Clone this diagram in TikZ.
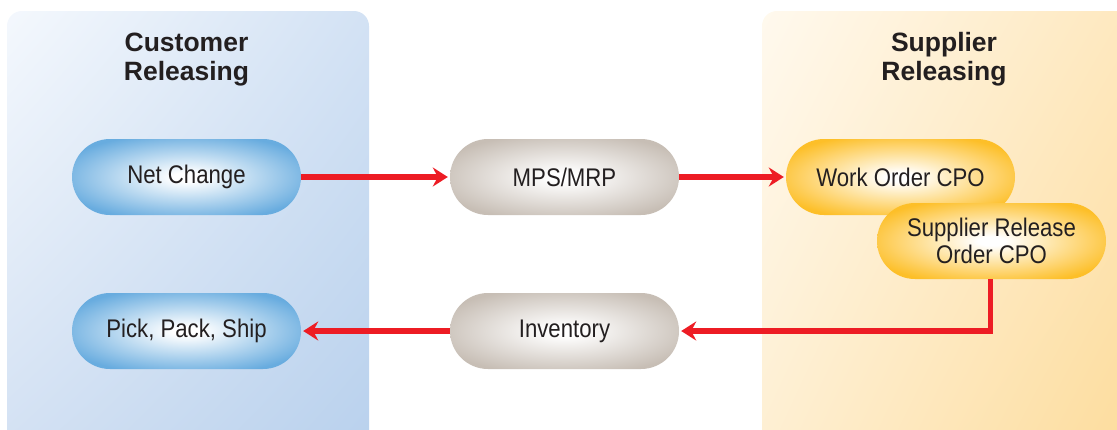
\documentclass[tikz,border=0pt]{standalone}
\usepackage{fontspec}
\setmainfont{Liberation Sans}
\newfontfamily\condfont[FakeStretch=0.87]{Liberation Sans}
\usetikzlibrary{arrows.meta,shapes.misc,shadings}
\definecolor{nodeblue}{HTML}{68ACDF}
\definecolor{nodegray}{HTML}{C7BEB5}
\definecolor{nodegold}{HTML}{FDBF28}
\definecolor{arrowred}{HTML}{ED1C24}
\definecolor{txt}{HTML}{231F20}
\definecolor{bUL}{HTML}{F4F8FD}
\definecolor{bUR}{HTML}{D3E2F4}
\definecolor{bLL}{HTML}{D3E1F3}
\definecolor{bLR}{HTML}{B9D1ED}
\definecolor{yUL}{HTML}{FFF9EE}
\definecolor{yUR}{HTML}{FEE8BE}
\definecolor{yLL}{HTML}{FEEFD2}
\definecolor{yLR}{HTML}{FDDC9C}
\pgfdeclareradialshading{blueglow}{\pgfpointorigin}{color(0bp)=(white); color(3bp)=(white); color(29bp)=(nodeblue); color(50bp)=(nodeblue)}
\pgfdeclareradialshading{grayglow}{\pgfpointorigin}{color(0bp)=(white); color(3bp)=(white); color(29bp)=(nodegray); color(50bp)=(nodegray)}
\pgfdeclareradialshading{goldglow}{\pgfpointorigin}{color(0bp)=(white); color(3bp)=(white); color(29bp)=(nodegold); color(50bp)=(nodegold)}
\tikzset{
  pill/.style={rounded rectangle, minimum width=229pt, minimum height=76pt, inner sep=0pt,
    align=center, text=txt, font=\condfont\fontsize{25.5pt}{27pt}\selectfont},
  bluepill/.style={pill, shading=blueglow},
  graypill/.style={pill, shading=grayglow},
  goldpill/.style={pill, shading=goldglow},
  paneltitle/.style={align=center, text=txt, inner sep=0pt, font=\bfseries\fontsize{26.5pt}{29pt}\selectfont},
  flow/.style={draw=arrowred, line width=5.5pt, -{Stealth[length=15pt, width=19pt, inset=5pt]}, shorten >=2pt}
}
\begin{document}
\begin{tikzpicture}[x=1pt, y=-1pt]
\useasboundingbox (0,0) rectangle (1117,429);
% panels
\shade[rounded corners=15pt, upper left=bUL, upper right=bUR, lower left=bLL, lower right=bLR]
  (7,11) rectangle (369,445);
\shade[rounded corners=15pt, upper left=yUL, upper right=yUR, lower left=yLL, lower right=yLR]
  (762,11) rectangle (1135,445);
\node[paneltitle, anchor=base] (ct) at (186.5,80) {Customer\\Releasing};
\node[paneltitle, anchor=base] (st) at (944,80) {Supplier\\Releasing};
% nodes
\node[bluepill] (net) at (186.5,177) {Net Change};
\node[bluepill] (pick) at (186.5,331) {Pick, Pack, Ship};
\node[graypill] (mps) at (564.5,177) {MPS/MRP};
\node[graypill] (inv) at (564.5,331) {Inventory};
\node[goldpill] (wo) at (900.5,177) {Work Order CPO};
\node[goldpill, text depth=0pt] (sro) at (991.5,241) {Supplier Release\\Order CPO};
% connectors
\draw[flow] (net.east) -- (mps.west);
\draw[flow] (mps.east) -- (wo.west);
\draw[flow] ([xshift=-1pt]sro.south) |- (inv.east);
\draw[flow] (inv.west) -- (pick.east);
\end{tikzpicture}
\end{document}
